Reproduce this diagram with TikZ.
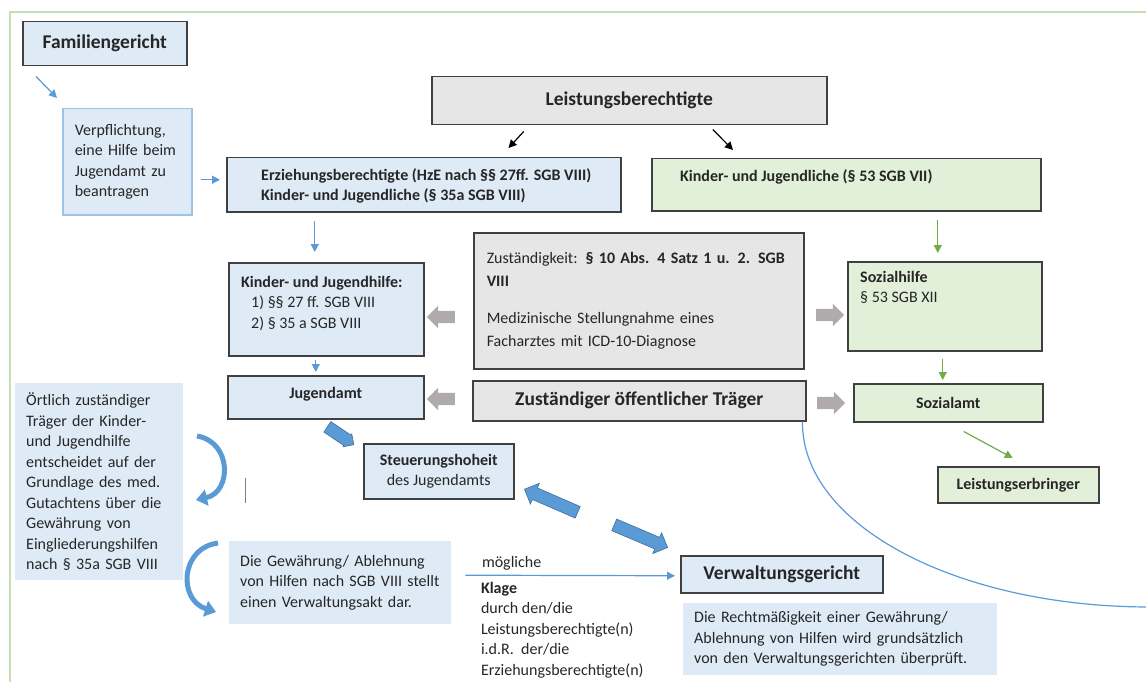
\documentclass[tikz,border=0pt]{standalone}
\usepackage{fontspec}
\setmainfont{Carlito}
\usepackage{xcolor}
\usepackage{tikz}
\usetikzlibrary{shapes,arrows,arrows.meta,positioning,calc}
\definecolor{boxblue}{RGB}{222,235,247}
\definecolor{boxgray}{RGB}{231,230,230}
\definecolor{boxgreen}{RGB}{226,240,217}
\definecolor{boxline}{RGB}{64,64,64}
\definecolor{noteline}{RGB}{157,195,230}
\definecolor{framegreen}{RGB}{197,224,180}
\definecolor{arrowblue}{RGB}{91,155,213}
\definecolor{blueedge}{RGB}{65,113,156}
\definecolor{arrowgreen}{RGB}{112,173,71}
\definecolor{blockgray}{RGB}{175,171,171}
\definecolor{textdark}{RGB}{38,38,38}
\newcommand{\bodyfont}{\fontsize{16}{20.5}\selectfont}
\newcommand{\labelfont}{\fontsize{16}{20.5}\selectfont\bfseries}
\newcommand{\headfont}{\fontsize{19.5}{24}\selectfont\bfseries}
\tikzset{
    block/.style={rectangle, draw=boxline, line width=1.5pt, anchor=north west, inner sep=0pt, text=textdark, font=\labelfont},
    blueblock/.style={block, fill=boxblue},
    grayblock/.style={block, fill=boxgray},
    greenblock/.style={block, fill=boxgreen},
    note/.style={rectangle, fill=boxblue, anchor=north west, inner sep=0pt, align=left, text=textdark, font=\bodyfont},
    txt/.style={anchor=north west, inner sep=0pt, align=left, text=textdark, font=\bodyfont},
    line/.style={draw, -{Triangle[length=8pt, width=8pt]}, line width=1.2pt},
    grayarrow/.style={single arrow, fill=blockgray, inner xsep=0pt, inner ysep=6pt, single arrow head extend=5pt, minimum height=28pt},
    bluearrow/.style={single arrow, fill=arrowblue, draw=blueedge, line width=0.6pt, inner xsep=0pt, inner ysep=6pt, single arrow head extend=5pt},
    bendarrow/.style={draw=arrowblue, line width=5pt, -{Triangle[length=11pt, width=16pt]}}
}

\begin{document}
\begin{tikzpicture}[x=1pt, y=-1pt]
    \useasboundingbox (0,0) rectangle (1146,682);
    % Frame
    \draw [framegreen, line width=2.5pt] (10,700) -- (10,12) -- (1160,12);

    % Courts and applicants
    \node [blueblock, font=\headfont, minimum width=164, minimum height=44] (famgericht) at (22,21) {Familiengericht};
    \node [note, draw=noteline, line width=1.5pt, text width=105, minimum width=129, minimum height=106] (verpflichtung) at (62,108) {Verpflichtung,\\eine Hilfe beim\\Jugendamt zu\\beantragen};
    \node [grayblock, font=\headfont, minimum width=395, minimum height=48] (leistber) at (431,76) {Leistungsberechtigte};
    \node [blueblock, minimum width=394, minimum height=54] (erzber) at (226,157) {};
    \node [txt, font=\labelfont] (erzbertxt) at ([shift={(35,11)}]erzber.north west) {Erziehungsberechtigte (HzE nach §§ 27ff. SGB VIII)\\Kinder- und Jugendliche (§ 35a SGB VIII)};
    \node [greenblock, minimum width=389, minimum height=52] (kjsgb7) at (651,158) {};
    \node [txt, font=\labelfont] (kjsgb7txt) at ([shift={(29,11)}]kjsgb7.north west) {Kinder- und Jugendliche (§ 53 SGB VII)};

    % Responsibility
    \node [grayblock, font=\fontsize{16}{22.5}\selectfont, align=left, text width=304, minimum width=330, minimum height=136] (zustkeit) at (473,232) {Zuständigkeit: \textbf{§ 10 Abs. 4 Satz 1 u. 2. SGB}\\\textbf{VIII}\\[15pt]Medizinische Stellungnahme eines\\Facharztes mit ICD-10-Diagnose};
    \node [blueblock, minimum width=195, minimum height=93] (kjhilfe) at (228,262) {};
    \node [txt] (kjhilfetxt) at ([shift={(13,14)}]kjhilfe.north west) {\textbf{Kinder- und Jugendhilfe:}\\\hspace*{10pt}1) §§ 27 ff. SGB VIII\\\hspace*{10pt}2) § 35 a SGB VIII};
    \node [greenblock, minimum width=194, minimum height=89] (sozhilfe) at (847,261) {};
    \node [txt] (sozhilfetxt) at ([shift={(13,10)}]sozhilfe.north west) {\textbf{Sozialhilfe}\\§ 53 SGB XII};
    \node [blueblock, minimum width=196, minimum height=43, text depth=8pt] (jugendamt) at (227,375) {Jugendamt};
    \node [grayblock, font=\headfont, minimum width=333, minimum height=40] (zusttraeger) at (472,380) {Zuständiger öffentlicher Träger};
    \node [greenblock, minimum width=189, minimum height=38] (sozialamt) at (853,383) {Sozialamt};
    \node [greenblock, minimum width=161, minimum height=36] (leisterbr) at (937,466) {Leistungserbringer};
    \node [blueblock, align=center, minimum width=150, minimum height=55] (steuerung) at (363,443) {Steuerungshoheit\\\mdseries des Jugendamts};

    % Notes
    \node [note, text width=146, minimum width=168, minimum height=197] (oertlich) at (15,383) {Örtlich zuständiger\\Träger der Kinder-\\und Jugendhilfe\\entscheidet auf der\\Grundlage des med.\\Gutachtens über die\\Gewährung von\\Eingliederungshilfen\\nach § 35a SGB VIII};
    \node [note, text width=200, minimum width=222, minimum height=83] (gewaehrung) at (229,541) {Die Gewährung/ Ablehnung\\von Hilfen nach SGB VIII stellt\\einen Verwaltungsakt dar.};
    \node [blueblock, font=\headfont, minimum width=202, minimum height=37] (verwgericht) at (680,555) {Verwaltungsgericht};
    \node [note, text width=292, minimum width=314, minimum height=72] (rechtm) at (683,603) {Die Rechtmäßigkeit einer Gewährung/\\Ablehnung von Hilfen wird grundsätzlich\\von den Verwaltungsgerichten überprüft.};

    % Block arrows
    \node [grayarrow, shape border rotate=180] (pfeilkjh) at (444,317) {};
    \node [grayarrow, shape border rotate=180] (pfeilja) at (444,399) {};
    \node [grayarrow] (pfeilsoz) at (827,315) {};
    \node [grayarrow] (pfeilamt) at (828,403) {};
    \node [bluearrow, rotate=-34, minimum height=32, single arrow head extend=1.5pt] (jaarrow) at (338,434) {};
    \node [bluearrow, rotate=156.5, minimum height=58] (klagepfeil1) at (554,502) {};
    \node [bluearrow, rotate=-23, minimum height=58] (klagepfeil2) at (638,535) {};

    % Flows
    \path [line, draw=arrowblue, fill=arrowblue] ([shift={(14,10)}]famgericht.south west) -- ([shift={(-5,-10)}]verpflichtung.north west);
    \path [line, draw=arrowblue] ([shift={(8,18)}]verpflichtung.east) -- ([shift={(-6,-5)}]erzber.west);
    \path [line, draw=black] ([shift={(-105.5,6)}]leistber.south) -- ([shift={(-113,-9)}]erzber.north east);
    \path [line, draw=black] ([shift={(83.5,4)}]leistber.south) -- ([shift={(82,-8)}]kjsgb7.north west);
    \path [line, draw=arrowblue] ([shift={(-109,8)}]erzber.south) -- ([shift={(-11.5,-10)}]kjhilfe.north);
    \path [line, draw=arrowblue] ([shift={(-10.5,3)}]kjhilfe.south) -- ([shift={(-10,-3)}]jugendamt.north);
    \path [line, draw=arrowgreen] ([shift={(91.5,8)}]kjsgb7.south) -- ([shift={(-7,-8)}]sozhilfe.north);
    \path [line, draw=arrowgreen] ([shift={(-2,7)}]sozhilfe.south) -- ([shift={(-5.5,-3)}]sozialamt.north);
    \path [line, draw=arrowgreen] ([shift={(15.5,9)}]sozialamt.south) -- ([shift={(-5.5,-8)}]leisterbr.north);
    \path [line, draw=arrowblue] ([shift={(14,-7.5)}]gewaehrung.east) -- node [txt, pos=0, anchor=south west, xshift=16pt, yshift=4pt] (moegl) {mögliche} node [txt, pos=0, anchor=north west, xshift=15pt, yshift=-6pt] (klagetxt) {\textbf{Klage}\\durch den/die\\Leistungsberechtigte(n)\\i.d.R.\ \ der/die\\Erziehungsberechtigte(n)} ([shift={(-5,1.5)}]verwgericht.west);

    % Bends
    \coordinate (kurvenende) at (1150,607);
    \draw [arrowblue, line width=1.2pt] ([xshift=-4pt]zusttraeger.south east) .. controls (801,525) and (957,607) .. (kurvenende);
    \coordinate (bogenAa) at (197,436);
    \coordinate (bogenAb) at (196,500);
    \coordinate (bogenBa) at (218,543);
    \coordinate (bogenBb) at (216,612);
    \draw [bendarrow] (bogenAa) .. controls (232,442) and (232,492) .. (bogenAb);
    \draw [bendarrow] (bogenBa) .. controls (180,548) and (178,600) .. (bogenBb);
    \draw [gray, line width=1pt] (245,478) -- (245,503);
\end{tikzpicture}
\end{document}
